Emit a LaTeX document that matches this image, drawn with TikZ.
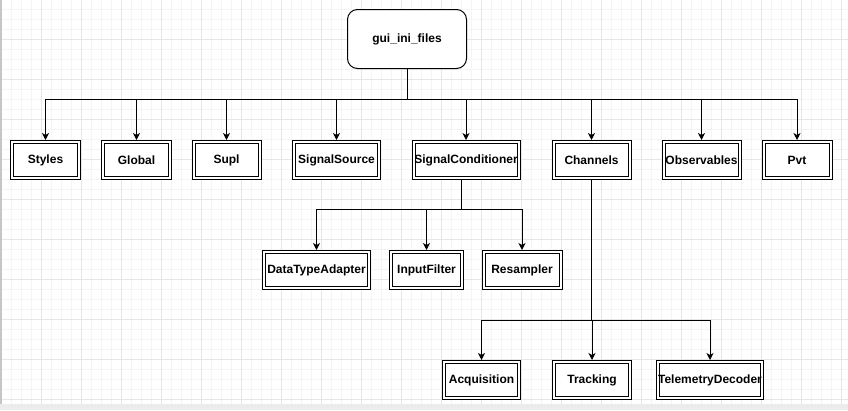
\documentclass[tikz,border=0pt]{standalone}
\usepackage{fontspec}
\setmainfont{Liberation Sans}
\usetikzlibrary{arrows.meta,positioning,calc}

\definecolor{gridmajor}{HTML}{E6E6E6}
\definecolor{gridminor}{HTML}{F4F4F4}

\begin{document}
\begin{tikzpicture}[
    x=1pt, y=-1pt,
    rootbox/.style={rectangle, rounded corners=10pt, draw=black, line width=1pt, fill=white,
                    align=center, minimum width=119pt, minimum height=59pt, inner sep=0pt,
                    font=\bfseries\fontsize{12}{14}\selectfont},
    dbox/.style={rectangle, draw=black, line width=1pt, fill=white,
                 align=center, minimum height=39pt, inner sep=0pt,
                 font=\bfseries\fontsize{12}{14}\selectfont,
                 path picture={\draw[black, line width=1pt]
                   ($(path picture bounding box.south west)+(3pt,3pt)$) rectangle
                   ($(path picture bounding box.north east)-(3pt,3pt)$);}},
    flow/.style={-{Stealth[length=7pt, width=7pt, inset=2pt]}, line width=1pt},
    link/.style={line width=1pt}
]
\useasboundingbox (0,0) rectangle (848,410);
% grid background
\foreach \i in {0,...,84} \draw[gridminor, line width=0.6pt] (1.5+10*\i,0) -- (1.5+10*\i,404);
\foreach \j in {1,...,40} \draw[gridminor, line width=0.6pt] (0,-0.5+10*\j) -- (848,-0.5+10*\j);
\foreach \i in {0,...,21} \draw[gridmajor, line width=0.8pt] (1.5+40*\i,0) -- (1.5+40*\i,404);
\foreach \j in {1,...,10} \draw[gridmajor, line width=0.8pt] (0,-0.5+40*\j) -- (848,-0.5+40*\j);
\fill[gray!15] (0,404) rectangle (848,410);
\draw[gray!45, line width=1.5pt] (1,0) -- (1,404);

% nodes
\node[rootbox] (gui) at (407,39) {gui\_ini\_files};

\node[dbox, minimum width=70pt]  (styles)  at (45.5,160)  {Styles};
\node[dbox, minimum width=70pt]  (global)  at (136.5,160) {Global};
\node[dbox, minimum width=69pt]  (supl)    at (226.5,160) {Supl};
\node[dbox, minimum width=88pt]  (sigsrc)  at (336.5,160) {SignalSource};
\node[dbox, minimum width=108pt] (sigcond) at (466,160)   {SignalConditioner};
\node[dbox, minimum width=79pt]  (chan)    at (591.5,160) {Channels};
\node[dbox, minimum width=79pt]  (obs)     at (701.5,160) {Observables};
\node[dbox, minimum width=70pt]  (pvt)     at (797,160)   {Pvt};

\node[dbox, minimum width=108pt] (dta)     at (316.5,270) {DataTypeAdapter};
\node[dbox, minimum width=74pt]  (infilt)  at (426.5,270) {InputFilter};
\node[dbox, minimum width=80pt]  (resamp)  at (522,270)   {Resampler};

\node[dbox, minimum width=78pt]  (acq)     at (481.5,380) {Acquisition};
\node[dbox, minimum width=79pt]  (trk)     at (592,380)   {Tracking};
\node[dbox, minimum width=107pt] (tlm)     at (710,380)   {TelemetryDecoder};

% connectors
\coordinate (bus1) at (407,99);
\coordinate (bus2) at (461,209);
\coordinate (bus3) at (591,320);
\draw[link] (gui.south) -- (bus1);
\foreach \n in {styles,global,supl,sigsrc,sigcond,chan,obs,pvt}
    \draw[flow] (bus1) -| (\n.north);
\draw[link] (sigcond.south -| bus2) -- (bus2);
\foreach \n in {dta,infilt,resamp}
    \draw[flow] (bus2) -| (\n.north);
\draw[link] (chan.south -| bus3) -- (bus3);
\foreach \n in {acq,trk,tlm}
    \draw[flow] (bus3) -| (\n.north);
\end{tikzpicture}
\end{document}
